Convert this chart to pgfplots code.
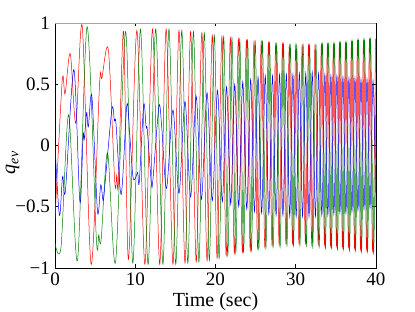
\documentclass[border=0pt]{standalone}
\usepackage{fontspec}
\setmainfont{Liberation Serif}
\usepackage{pgfplots}
\pgfplotsset{compat=1.18}
\definecolor{mred}{rgb}{1,0,0}
\definecolor{mgreen}{rgb}{0,0.5,0}
\definecolor{mblue}{rgb}{0,0,1}
\begin{document}
\begin{tikzpicture}
\useasboundingbox (0,0) rectangle (415bp,312bp);
\begin{axis}[
  at={(55bp,44bp)}, anchor=south west,
  scale only axis, width=321bp, height=245bp,
  xmin=0, xmax=40, ymin=-1, ymax=1,
  xtick={0,10,20,30,40},
  xticklabels={0,10,20,30,40},
  ytick={-1,-0.5,0,0.5,1},
  yticklabels={−1,−0.5,0,0.5,1},
  tick align=inside,
  major tick length=3.5bp,
  tick style={black, line width=0.5bp},
  axis line style={line width=0.6bp},
  ticklabel style={font=\fontsize{19bp}{22bp}\selectfont},
  xticklabel style={yshift=-3bp, inner sep=2pt},
  yticklabel style={inner sep=2pt, xshift=-3bp},
  xlabel={Time (sec)},
  ylabel={\itshape q\textsubscript{ev}},
  label style={font=\fontsize{20bp}{23bp}\selectfont, inner sep=1pt},
  xlabel style={at={(axis description cs:0.5,0)}, anchor=center, yshift=-34bp},
  ylabel style={at={(axis description cs:-0.132,0.43)}, anchor=center},
  every axis plot/.append style={line width=0.5bp, smooth, tension=0.5},
]
\addplot[mred] coordinates {(0,-0.60)(0.9,0.53)(1.25,0.42)(1.9,0.75)(2.6,0.18)(3.4,0.97)(4.5,-0.97)(5.55,0.50)(5.85,0.55)(6.65,0.78)(7.45,-0.30)(7.7,-0.24)(7.9,-0.30)(8.55,0.93)(9.15,-0.93)(10.2,0.94)(11.2,-0.97)(12.15,0.95)(13.05,-0.97)(13.85,0.95)(14.7,-0.97)(15.45,0.94)(16.2,-0.96)(16.9,0.93)(17.6,-0.95)(18.3,0.92)(18.95,-0.94)(19.6,0.90)(20.2,-0.92)(20.8,0.89)(21.33,-0.90)(21.85,0.88)(22.35,-0.88)(22.85,0.87)(23.35,-0.87)(23.85,0.86)(24.33,-0.86)(24.8,0.85)(25.25,-0.84)(25.7,0.85)(26.15,-0.83)(26.6,0.84)(27.05,-0.82)(27.5,0.83)(27.93,-0.81)(28.35,0.83)(28.78,-0.80)(29.2,0.82)(29.6,-0.80)(30.0,0.82)(30.4,-0.80)(30.8,0.82)(31.2,-0.80)(31.6,0.82)(32.0,-0.81)(32.4,0.82)(32.8,-0.81)(33.2,0.83)(33.58,-0.81)(33.95,0.83)(34.33,-0.82)(34.7,0.83)(35.08,-0.82)(35.45,0.84)(35.83,-0.83)(36.2,0.84)(36.58,-0.83)(36.95,0.85)(37.33,-0.84)(37.7,0.86)(38.08,-0.85)(38.45,0.86)(38.83,-0.85)(39.2,0.87)(39.58,-0.86)(39.95,0.87)};
\addplot[mgreen] coordinates {(0,-0.80)(0.75,-0.83)(1.7,0.25)(2.8,-0.94)(4.0,0.97)(5.15,-0.76)(5.45,-0.73)(5.75,-0.77)(6.55,-0.06)(7.55,-0.95)(8.8,0.93)(9.7,-0.96)(10.65,0.95)(11.6,-0.97)(12.55,0.95)(13.45,-0.97)(14.2,0.95)(15.05,-0.97)(15.8,0.94)(16.55,-0.96)(17.25,0.93)(17.93,-0.95)(18.6,0.92)(19.23,-0.94)(19.85,0.90)(20.45,-0.92)(21.02,0.89)(21.53,-0.90)(22.05,0.88)(22.53,-0.88)(23.02,0.87)(23.5,-0.87)(24.0,0.86)(24.47,-0.86)(24.95,0.85)(25.4,-0.85)(25.85,0.85)(26.28,-0.84)(26.73,0.84)(27.18,-0.83)(27.62,0.83)(28.05,-0.83)(28.47,0.83)(28.9,-0.82)(29.32,0.82)(29.72,-0.82)(30.12,0.82)(30.52,-0.82)(30.92,0.82)(31.32,-0.82)(31.72,0.82)(32.12,-0.83)(32.52,0.82)(32.92,-0.83)(33.32,0.83)(33.7,-0.84)(34.07,0.83)(34.45,-0.84)(34.82,0.83)(35.2,-0.85)(35.57,0.84)(35.95,-0.85)(36.32,0.84)(36.7,-0.86)(37.07,0.85)(37.45,-0.86)(37.82,0.86)(38.2,-0.87)(38.57,0.86)(38.95,-0.87)(39.32,0.87)(39.7,-0.88)(40.07,0.87)};
\addplot[mblue] coordinates {(0,0.0)(0.55,-0.57)(0.95,-0.25)(1.3,-0.37)(2.35,0.62)(3.1,-0.46)(3.5,0.08)(3.65,0.05)(3.95,0.27)(4.15,0.15)(4.6,0.40)(5.3,-0.54)(5.7,-0.32)(6.0,-0.45)(6.25,-0.30)(7.1,0.30)(7.4,0.20)(7.6,0.18)(8.25,-0.40)(8.95,0.33)(9.3,0.10)(9.7,-0.25)(10.0,-0.27)(10.3,-0.22)(10.5,-0.30)(11.05,0.33)(11.35,0.15)(11.5,0.13)(12.0,-0.30)(12.2,-0.28)(12.95,0.32)(13.3,0.15)(13.9,-0.35)(14.7,0.29)(15.45,-0.39)(16.2,0.36)(16.9,-0.42)(17.6,0.40)(18.25,-0.44)(18.95,0.43)(19.6,-0.45)(20.25,0.45)(20.85,-0.46)(21.38,0.48)(21.9,-0.48)(22.4,0.50)(22.9,-0.50)(23.4,0.52)(23.9,-0.52)(24.38,0.54)(24.85,-0.54)(25.3,0.56)(25.75,-0.55)(26.2,0.57)(26.65,-0.56)(27.1,0.57)(27.55,-0.57)(27.98,0.58)(28.4,-0.57)(28.83,0.58)(29.25,-0.58)(29.65,0.58)(30.05,-0.58)(30.45,0.59)(30.85,-0.58)(31.25,0.59)(31.65,-0.58)(32.05,0.60)(32.45,-0.58)(32.85,0.59)(33.25,-0.57)(33.63,0.58)(34.0,-0.57)(34.38,0.57)(34.75,-0.56)(35.13,0.57)(35.5,-0.55)(35.88,0.56)(36.25,-0.55)(36.63,0.55)(37.0,-0.54)(37.38,0.55)(37.75,-0.53)(38.13,0.54)(38.5,-0.52)(38.88,0.54)(39.25,-0.51)(39.63,0.53)(40.0,-0.50)};
\draw[gray!70, line width=0.6bp] (rel axis cs:0,1) -- (rel axis cs:1,1) -- (rel axis cs:1,0);
\end{axis}
\end{tikzpicture}
\end{document}
